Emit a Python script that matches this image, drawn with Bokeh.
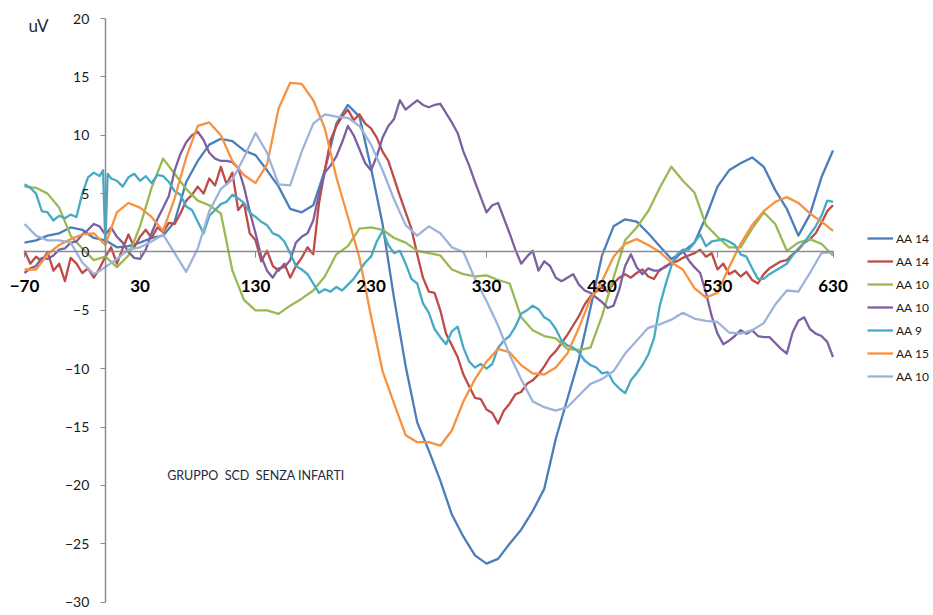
from bokeh.plotting import figure
from bokeh.models import LinearAxis, FixedTicker, Legend, LegendItem, Label, Range1d
from bokeh.embed import file_html
from bokeh.resources import INLINE

# time axis (ms): smooth traces every 10 ms, noisier traces every 5 ms
ms = list(range(-70, 631, 10))
ms5 = list(range(-70, 631, 5))

aa14_a = [0.8, 1.0, 1.4, 1.6, 2.1, 1.9, 1.2,
          1.0, 0.4, 0.5, 0.8, 1.2, 1.4, 2.6,
          6.0, 7.8, 9.2, 9.7, 9.5, 8.7, 8.3,
          7.0, 5.6, 3.7, 3.4, 4.0, 7.0, 11.0,
          12.6, 11.6, 7.2, 2.4, -4.0, -9.8, -14.6,
          -17.0, -19.6, -22.5, -24.4, -26.0, -26.7, -26.3,
          -25.0, -23.8, -22.2, -20.3, -16.0, -12.6, -9.2,
          -4.8, -0.3, 2.2, 2.8, 2.6, 1.6, 0.5,
          -0.6, 0.0, 0.8, 3.0, 5.6, 7.0, 7.6,
          8.1, 7.3, 5.3, 3.7, 1.4, 3.2, 6.4,
          8.7]

# 5 ms resolution
aa14_b = [0.1, -1.0, -0.4, -0.8, 0.0, -1.6, -1.0, -2.5, -0.5, -1.0,
          -1.8, -1.4, -2.2, -1.4, -0.4, 0.4, -1.0, 0.3, 1.5, 0.4,
          1.3, 1.9, 1.2, 2.1, 1.7, 2.5, 2.4, 3.3, 4.4, 4.9,
          5.6, 5.0, 6.3, 5.7, 7.3, 5.8, 6.8, 3.6, 4.2, 1.6,
          1.0, -0.8, 0.1, -1.2, -1.6, -1.0, -2.2, -1.2, -0.5, 0.4,
          -0.2, 4.2, 7.0, 9.6, 10.8, 11.6, 12.2, 11.3, 11.8, 11.0,
          10.6, 9.8, 8.6, 7.8, 6.3, 4.8, 3.4, 2.0, -0.2, -2.2,
          -3.4, -3.5, -5.0, -7.0, -8.0, -9.0, -10.5, -11.5, -12.5, -12.6,
          -13.5, -13.8, -14.7, -13.6, -13.0, -12.2, -12.0, -11.3, -11.0, -10.5,
          -9.8, -9.0, -8.5, -7.8, -7.1, -6.3, -5.5, -4.5, -3.8, -3.4,
          -3.0, -3.4, -2.7, -2.2, -1.9, -2.2, -1.8, -1.5, -2.1, -2.3,
          -1.5, -1.3, -0.9, -0.8, -0.5, -0.3, -0.1, 0.2, -0.4, -0.1,
          -1.5, -1.0, -1.9, -1.6, -2.1, -1.7, -2.4, -2.7, -1.9, -1.4,
          -1.1, -0.8, -0.7, -0.2, 0.2, 0.8, 1.1, 1.6, 2.5, 3.5,
          4.0]

aa10_a = [5.6, 5.5, 5.0, 3.8, 1.4, 0.3, -0.7,
          -0.4, -1.3, -0.3, 2.2, 5.5, 8.0, 6.7,
          5.4, 4.4, 4.0, 3.3, -1.6, -4.1, -5.0,
          -5.0, -5.3, -4.6, -4.0, -3.3, -2.1, -0.2,
          0.5, 2.0, 2.1, 1.9, 1.2, 0.8, 0.1,
          -0.1, -0.3, -1.5, -1.9, -2.1, -2.0, -2.4,
          -2.7, -5.6, -6.7, -7.2, -7.4, -8.3, -8.4,
          -8.2, -5.5, -2.2, 1.0, 2.1, 3.5, 5.5,
          7.3, 6.1, 5.1, 2.3, 1.3, 0.4, 0.4,
          2.0, 3.4, 2.4, 0.1, 0.8, 1.1, 0.7,
          -0.3]

# 5 ms resolution
aa10_b = [-1.8, -1.4, -1.2, -0.5, -0.6, -0.3, 0.2, 0.3, 0.8, 0.9,
          1.5, 1.9, 2.4, 2.2, 1.5, 2.1, 1.3, 0.8, 0.0, -0.5,
          -0.6, 0.2, 1.6, 2.8, 3.8, 4.8, 7.0, 8.4, 9.4, 10.0,
          10.3, 9.6, 8.5, 8.0, 7.8, 7.8, 7.7, 7.2, 5.6, 3.5,
          1.6, -0.4, -1.6, -2.2, -1.4, -1.3, -0.7, 0.8, 1.3, 1.6,
          2.7, 5.0, 6.8, 7.4, 8.2, 9.4, 10.8, 10.0, 8.8, 7.6,
          7.0, 8.2, 9.8, 10.8, 11.4, 13.0, 12.2, 12.6, 13.0, 12.6,
          12.4, 12.6, 12.7, 11.9, 11.1, 10.2, 8.6, 7.4, 6.0, 4.7,
          3.4, 4.0, 4.2, 2.9, 1.6, 0.2, -1.0, -0.4, 0.1, -1.6,
          -0.8, -1.2, -2.2, -2.5, -2.2, -1.9, -2.8, -3.3, -3.5, -3.9,
          -4.3, -4.8, -4.6, -3.2, -1.2, -0.2, -1.3, -1.9, -1.4, -1.6,
          -1.6, -1.2, -1.0, -0.4, 0.1, -0.7, -1.3, -1.8, -3.5, -5.5,
          -7.0, -7.9, -7.6, -7.2, -6.7, -7.0, -6.7, -7.2, -7.3, -7.3,
          -7.8, -8.3, -8.7, -6.9, -5.9, -5.6, -6.6, -7.0, -7.2, -7.7,
          -9.0]

# AA 9 has a short artefact right at stimulus onset, so it carries its own time points
aa9_ms = list(range(-70, -4, 5)) + [-2, 0, 2] + list(range(5, 631, 5))
aa9 = [5.8, 5.5, 5.0, 3.5, 3.4, 2.7, 3.1, 2.9, 3.2, 3.0, 5.0, 6.4, 6.8, 6.5,
       7.0, 0.7, 6.7,
       6.3, 6.1, 5.6, 6.4, 6.7, 6.1, 6.5, 5.9, 6.6, 6.5,
       6.0, 5.2, 4.9, 3.9, 3.6, 2.6, 1.6, 3.1, 3.6, 4.1,
       4.3, 4.9, 4.6, 4.2, 3.4, 3.0, 2.6, 2.3, 1.6, 1.4,
       0.9, -0.1, -1.2, -1.5, -1.9, -2.7, -3.5, -3.2, -3.4, -3.0,
       -3.3, -2.8, -2.3, -1.6, -0.9, -0.4, 0.9, 1.8, 0.6, -0.1,
       0.1, -1.0, -2.3, -2.7, -4.4, -5.2, -6.6, -7.3, -7.9, -6.8,
       -6.4, -8.2, -9.4, -9.9, -9.6, -10.0, -9.6, -8.2, -7.6, -7.2,
       -6.4, -5.3, -5.0, -4.6, -4.9, -5.6, -5.9, -6.6, -7.6, -8.0,
       -8.2, -8.6, -9.3, -9.7, -9.9, -10.4, -10.3, -11.2, -11.7, -12.1,
       -11.0, -10.4, -9.7, -8.8, -7.4, -4.6, -2.8, -1.2, -0.2, 0.2,
       0.2, 0.8, 1.5, 0.5, 0.9, 1.0, 1.1, 0.9, 0.6, -0.2,
       -0.4, -1.4, -2.3, -2.3, -1.9, -1.6, -1.3, -1.0, -0.3, 0.3,
       0.8, 1.5, 2.2, 3.1, 4.4, 4.3]

aa15 = [-1.5, -1.5, -0.2, 0.6, 1.1, 1.5, 1.6,
        0.6, 3.4, 4.2, 3.8, 3.0, 1.8, 4.6,
        8.1, 10.8, 11.1, 10.0, 7.8, 6.6, 5.9,
        7.5, 12.3, 14.5, 14.4, 13.0, 10.6, 6.4,
        3.0, -0.5, -5.5, -10.2, -13.0, -15.7, -16.3,
        -16.3, -16.6, -15.3, -12.8, -10.9, -9.4, -8.3,
        -8.6, -9.7, -10.4, -10.5, -9.9, -8.7, -6.5,
        -4.0, -2.5, -0.4, 0.7, 1.1, 0.6, 0.0,
        -0.9, -1.5, -3.1, -3.9, -3.5, -1.3, 0.7,
        2.3, 3.5, 4.3, 4.7, 4.2, 3.3, 2.6,
        1.8]

aa10_c = [2.4, 1.4, 1.0, 1.0, 0.8, -0.9, -1.9,
          -1.3, -0.6, 0.2, 0.4, 0.9, 1.5, -0.1,
          -1.7, 0.3, 3.5, 5.4, 6.2, 8.1, 10.2,
          8.5, 5.8, 5.7, 8.6, 11.0, 11.8, 11.6,
          11.5, 10.8, 9.2, 7.0, 4.5, 2.3, 1.4,
          2.2, 1.6, 0.4, 0.0, -2.3, -4.2, -6.3,
          -8.8, -10.9, -12.8, -13.3, -13.6, -13.3, -12.3,
          -11.3, -10.9, -10.2, -8.7, -7.6, -6.5, -6.2,
          -5.8, -5.2, -5.7, -5.9, -6.0, -6.9, -7.0,
          -6.7, -6.1, -4.5, -3.3, -3.4, -1.8, -0.1,
          0.0]

series_labels = ["AA 14", "AA 14", "AA 10", "AA 10", "AA 9", "AA 15", "AA 10"]
series_x = [ms, ms5, ms, ms5, aa9_ms, ms, ms]
series_y = [aa14_a, aa14_b, aa10_a, aa10_b, aa9, aa15, aa10_c]
colors = ["#4A7EBB", "#BE4B48", "#98B954", "#7D60A0", "#46AAC5", "#F69240", "#9DB3DA"]

x_ticks = list(range(-70, 631, 100))
y_ticks = list(range(-30, 21, 5))
x_bounds = (-70, 630)
y_bounds = (-30, 20)

FONT = "Lato"

# the frame spans the whole canvas; the axes are bounded to the data window
p = figure(width=933, height=615,
           x_range=Range1d(-90.78, 717.0), y_range=Range1d(-31.15, 21.55),
           x_axis_location=None, y_axis_location=None,
           min_border_left=0, min_border_right=0,
           min_border_top=0, min_border_bottom=0,
           output_backend="svg", toolbar_location=None)
p.outline_line_color = None
p.background_fill_color = "white"
for g in p.grid:
    g.visible = False

renderers = []
for xs, ys, c in zip(series_x, series_y, colors):
    r = p.line(xs, ys, line_color=c, line_width=2.3, line_join="round")
    renderers.append(r)

# axes crossing at the origin
xaxis = LinearAxis(fixed_location=0, bounds=x_bounds, ticker=FixedTicker(ticks=x_ticks),
                   axis_line_color="#8c8c8c", axis_line_width=1.5,
                   major_tick_line_color="#8c8c8c", major_tick_out=6, major_tick_in=0,
                   minor_tick_line_color=None,
                   major_label_standoff=22,
                   major_label_text_font=FONT, major_label_text_font_style="bold",
                   major_label_text_font_size="17px", major_label_text_color="#000000")
p.add_layout(xaxis, "below")

yaxis = LinearAxis(fixed_location=0, bounds=y_bounds, ticker=FixedTicker(ticks=y_ticks),
                   axis_line_color="#8c8c8c", axis_line_width=1.5,
                   major_tick_line_color="#8c8c8c", major_tick_out=5, major_tick_in=0,
                   minor_tick_line_color=None,
                   major_label_standoff=11,
                   major_label_text_font=FONT, major_label_text_font_size="14px",
                   major_label_text_color="#1a1a1a")
p.add_layout(yaxis, "left")

p.add_layout(Label(x=-66.5, y=19.4, text="uV", text_font=FONT, text_font_size="17px",
                   text_color="#1f2a3a", text_baseline="alphabetic"))
p.add_layout(Label(x=53.5, y=-19.15, text="GRUPPO\u00a0\u00a0SCD\u00a0\u00a0SENZA INFARTI",
                   text_font=FONT, text_font_size="12.5px", text_color="#1f2a3a",
                   text_baseline="alphabetic"))

items = [LegendItem(label=lab, renderers=[r]) for lab, r in zip(series_labels, renderers)]
legend = Legend(items=items, location=(867, 229),
                glyph_width=26, glyph_height=20, label_height=20, spacing=3,
                label_standoff=3, padding=0, margin=0,
                border_line_color=None, background_fill_alpha=0,
                label_text_font=FONT, label_text_font_size="12px", label_text_color="#1a1a1a")
p.add_layout(legend)

open("out.html", "w").write(file_html(p, INLINE))
